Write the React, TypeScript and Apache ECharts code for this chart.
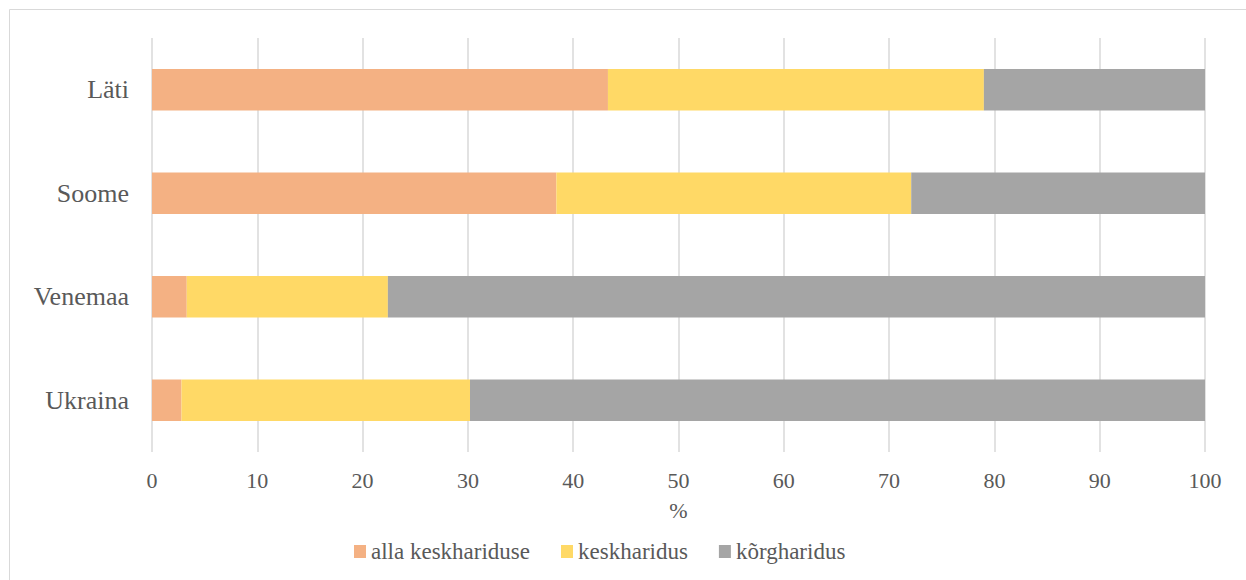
import React, { useEffect, useRef } from "react";
import * as echarts from "echarts";

const categories = ["Ukraina", "Venemaa", "Soome", "Läti"];
const seriesNames = ["alla keskhariduse", "keskharidus", "kõrgharidus"];
const allaKeskhariduse = [2.8, 3.3, 38.4, 43.3];
const keskharidus = [27.4, 19.1, 33.7, 35.7];
const korgharidus = [69.8, 77.6, 27.9, 21.0];
const colors = ["#F4B183", "#FFD966", "#A5A5A5"];
const xTicks = [0, 10, 20, 30, 40, 50, 60, 70, 80, 90, 100];

const FONT = "'Liberation Serif', 'Times New Roman', serif";

export default function App() {
  const ref = useRef<HTMLDivElement>(null);
  useEffect(() => {
    if (!ref.current) return;
    const chart = echarts.init(ref.current, undefined, { renderer: "svg" });
    const values = [allaKeskhariduse, keskharidus, korgharidus];
    chart.setOption({
      animation: false,
      backgroundColor: "#ffffff",
      graphic: [
        {
          type: "rect",
          shape: { x: 9.5, y: 9.5, width: 1300, height: 700 },
          style: { fill: "none", stroke: "#D9D9D9", lineWidth: 1 },
          silent: true,
        },
      ],
      grid: { left: 152, right: 41, top: 38, bottom: 128, containLabel: false },
      xAxis: {
        type: "value",
        min: xTicks[0],
        max: xTicks[xTicks.length - 1],
        interval: 10,
        name: "%",
        nameLocation: "middle",
        nameGap: 47,
        nameTextStyle: { fontFamily: FONT, fontSize: 22, color: "#595959" },
        axisLine: { show: false },
        axisTick: { show: false },
        axisLabel: { fontFamily: FONT, fontSize: 22, color: "#595959", margin: 17 },
        splitLine: { show: true, lineStyle: { color: "#D9D9D9", width: 1.5 } },
      },
      yAxis: {
        type: "category",
        data: categories,
        axisLine: { show: false },
        axisTick: { show: false },
        axisLabel: { fontFamily: FONT, fontSize: 26, color: "#595959", margin: 23 },
        splitLine: { show: false },
      },
      legend: {
        top: 535,
        left: 349,
        itemWidth: 12,
        itemHeight: 13,
        itemGap: 31,
        icon: "rect",
        textStyle: { fontFamily: FONT, fontSize: 23, color: "#595959" },
        data: seriesNames,
      },
      series: seriesNames.map((name, i) => ({
        name,
        type: "bar",
        stack: "total",
        barWidth: "40%",
        data: values[i],
        itemStyle: { color: colors[i] },
      })),
    });
    return () => chart.dispose();
  }, []);
  return (
    <div
      ref={ref}
      style={{ position: "absolute", left: 0, top: 0, width: 1246, height: 580 }}
    />
  );
}
